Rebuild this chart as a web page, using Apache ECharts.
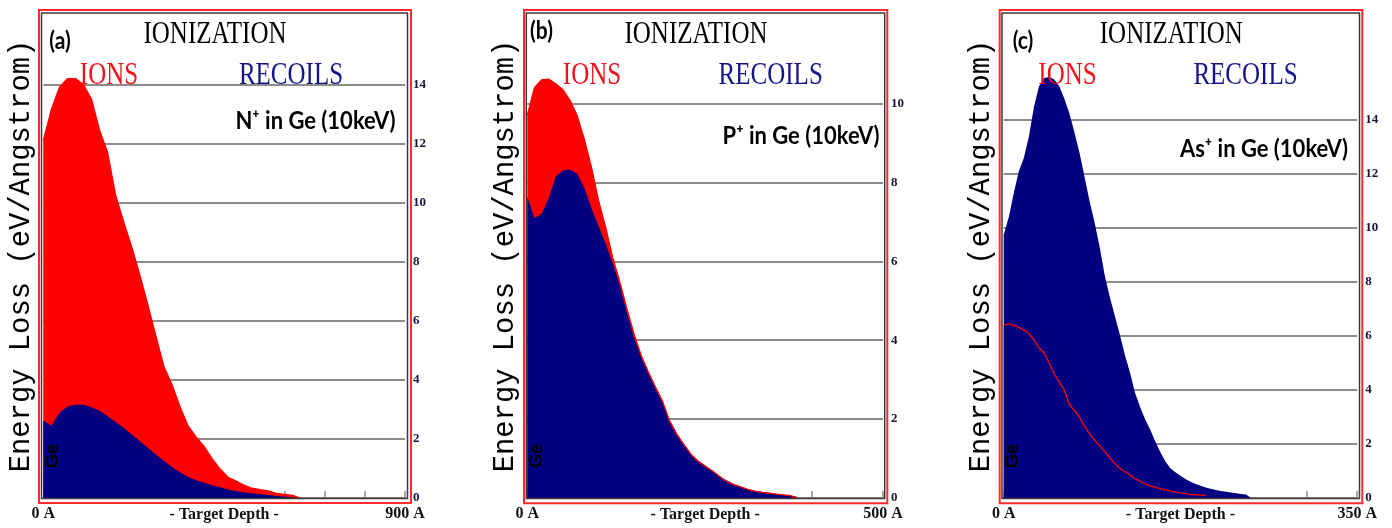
<!DOCTYPE html>
<html>
<head>
<meta charset="utf-8">
<script src="https://cdn.jsdelivr.net/npm/echarts@6/dist/echarts.min.js"></script>
<style>
  html, body { margin: 0; padding: 0; background: #ffffff; }
  #chart { width: 1392px; height: 528px; }
</style>
</head>
<body>
<div id="chart"></div>
<script>
// Ionization energy loss (eV/Angstrom) versus target depth (Angstrom), 10 keV implants in Ge.

// (a) N+ in Ge
const depthA = [0,20,40,60,80,100,120,140,160,180,200,220,240,260,280,300,320,340,360,380,400,420,440,460,480,500,520,540,560,580,600,620,640];
const ionsA = [12.1,13.15,13.9,14.2,14.2,14.0,13.5,12.45,11.7,10.25,9.35,8.5,7.55,6.55,5.5,4.45,3.84,3.1,2.45,2.07,1.75,1.33,0.98,0.7,0.57,0.43,0.33,0.28,0.24,0.16,0.12,0.09,0];
const recoilsA = [2.62,2.45,2.88,3.1,3.16,3.16,3.07,2.95,2.77,2.57,2.38,2.15,1.93,1.7,1.47,1.26,1.05,0.87,0.72,0.6,0.52,0.43,0.36,0.29,0.24,0.19,0.16,0.13,0.1,0.07,0.05,0.02,0];

// (b) P+ in Ge
const depthB = [0,10,20,30,40,50,60,70,80,90,100,110,120,130,140,150,160,170,180,190,200,210,220,230,240,250,260,270,280,290,300,310,320,330,340,350,360,370,380];
const ionsB = [9.7,10.4,10.6,10.62,10.5,10.35,10.08,9.7,9.1,8.4,7.55,6.87,6.1,5.48,4.8,4.16,3.62,3.2,2.82,2.46,1.95,1.62,1.36,1.11,0.93,0.8,0.69,0.55,0.41,0.34,0.28,0.22,0.17,0.14,0.12,0.1,0.08,0.06,0];
const recoilsB = [7.63,7.1,7.2,7.6,8.15,8.3,8.33,8.22,7.88,7.36,6.9,6.45,5.95,5.4,4.7,4.07,3.58,3.17,2.78,2.42,1.99,1.65,1.36,1.11,0.96,0.83,0.7,0.56,0.45,0.36,0.29,0.23,0.19,0.16,0.13,0.1,0.08,0.06,0.03];

// (c) As+ in Ge
const depthC = [0,5,10,15,20,25,30,35,40,45,50,55,60,65,70,75,80,85,90,95,100,105,110,115,120,125,130,135,140,145,150,155,160,165,170,175,180,185,190,195,200,205,210,215,220,225,230,235,240,245];
const ionsC = [6.4,6.45,6.4,6.32,6.22,6.1,5.85,5.56,5.37,5.0,4.6,4.3,4.0,3.45,3.25,3.0,2.65,2.38,2.15,1.94,1.72,1.5,1.28,1.1,0.97,0.85,0.72,0.62,0.52,0.44,0.4,0.35,0.3,0.26,0.22,0.19,0.16,0.13,0.12,0.11,0.1];
const recoilsC = [9.75,10.4,11.3,12.1,12.6,13.4,14.5,15.25,15.55,15.6,15.5,15.25,14.8,14.25,13.55,12.8,11.9,11.0,10.2,9.3,8.25,7.45,6.75,6.05,5.3,4.65,3.9,3.38,2.92,2.54,2.1,1.7,1.36,1.1,0.95,0.82,0.7,0.6,0.52,0.45,0.39,0.34,0.3,0.26,0.23,0.2,0.18,0.15,0.13,0];

// Axis ranges and captions
const depthMax = [900, 500, 350];
const lossMax = [14, 10, 14];
const panelTags = ['(a)', '(b)', '(c)'];
const implantLabels = ['N\u207A in Ge (10keV)', 'P\u207A in Ge (10keV)', 'As\u207A in Ge (10keV)'];

const ION_RED = '#ff0000';
const RECOIL_NAVY = '#000080';

// Layout of the three framed plots
const layout = [
  { left: 43.3, width: 361.7, top: 84.5, red: [39, 10, 372, 493], dark: [41.5, 13, 366, 485.5],
    tag: [60, 40.8], title: [215, 34.7], ions: [109, 75.7], recoils: [291, 75.7], implant: [315.5, 121], ge: [53, 456], yName: [21, 256] },
  { left: 527.3, width: 355.7, top: 103.5, red: [524, 10, 363.3, 493.3], dark: [526.3, 13, 358.4, 485.5],
    tag: [541.5, 31], title: [696, 34.7], ions: [592, 75.7], recoils: [770.7, 75.7], implant: [801, 135.8], ge: [537.3, 456], yName: [505.7, 256] },
  { left: 1003.7, width: 353.5, top: 120, red: [999.7, 10, 362.6, 493.3], dark: [1002, 13, 357.5, 485.5],
    tag: [1023, 40.8], title: [1171.3, 34.7], ions: [1067.5, 75.7], recoils: [1245.5, 75.7], implant: [1264, 149], ge: [1013, 456], yName: [981.3, 256] }
];
const PLOT_BOTTOM = 498;

const pairs = (xs, ys) => ys.map((v, i) => [xs[i], v]);
const datasets = [
  { depth: depthA, ions: ionsA, recoils: recoilsA },
  { depth: depthB, ions: ionsB, recoils: recoilsB },
  { depth: depthC, ions: ionsC, recoils: recoilsC }
];

const grid = [], xAxis = [], yAxis = [], series = [], graphic = [];

layout.forEach((L, i) => {
  grid.push({ left: L.left, width: L.width, top: L.top, height: PLOT_BOTTOM - L.top,
              containLabel: false, outerBoundsMode: 'none' });

  const maxD = depthMax[i];
  xAxis.push({
    type: 'value', gridIndex: i, min: 0, max: maxD, interval: 100,
    axisLine: { show: true, lineStyle: { color: '#9a9a9a', width: 1 } },
    axisTick: { show: true, inside: true, length: 7, lineStyle: { color: '#8a8a8a', width: 1.5 } },
    splitLine: { show: false },
    axisLabel: {
      show: true, showMinLabel: true, showMaxLabel: true, margin: 8,
      fontFamily: '"Liberation Serif", serif', fontWeight: 'bold', fontSize: 16, color: '#111',
      formatter: v => (v === 0 ? '0 A' : (v === maxD ? maxD + ' A' : ''))
    },
    name: '- Target Depth -', nameLocation: 'middle', nameGap: 9, nameMoveOverlap: false,
    nameTextStyle: { fontFamily: '"Liberation Serif", serif', fontWeight: 'bold', fontSize: 16, color: '#111', verticalAlign: 'top' }
  });

  yAxis.push({
    type: 'value', gridIndex: i, position: 'right', min: 0, max: lossMax[i], interval: 2,
    axisLine: { show: false }, axisTick: { show: false },
    splitLine: { show: true, lineStyle: { color: '#8c8c8c', width: 2 } },
    axisLabel: {
      margin: 8, fontFamily: '"Liberation Serif", serif', fontWeight: 'bold', fontSize: 13, color: '#15153a',
      verticalAlign: 'middle', padding: [0, 0, 8, 0]
    }
  });

  const d = datasets[i];
  // ions as a filled area, recoils on top of it, ions outline drawn last
  series.push({
    type: 'line', xAxisIndex: i, yAxisIndex: i, data: pairs(d.depth, d.ions), clip: false,
    showSymbol: false, silent: true, z: 2,
    lineStyle: { width: 0, color: ION_RED }, areaStyle: { color: ION_RED, opacity: 1 }
  });
  series.push({
    type: 'line', xAxisIndex: i, yAxisIndex: i, data: pairs(d.depth, d.recoils), clip: false,
    showSymbol: false, silent: true, z: 3,
    lineStyle: { width: 0, color: RECOIL_NAVY }, areaStyle: { color: RECOIL_NAVY, opacity: 1 }
  });
  series.push({
    type: 'line', xAxisIndex: i, yAxisIndex: i, data: pairs(d.depth, d.ions), clip: false,
    showSymbol: false, silent: true, z: 4,
    lineStyle: { width: 1.3, color: ION_RED }
  });

  // frames
  graphic.push({ type: 'rect', z: 50, silent: true,
    shape: { x: L.red[0], y: L.red[1], width: L.red[2], height: L.red[3] },
    style: { fill: 'none', stroke: '#ff2a2a', lineWidth: 2 } });
  graphic.push({ type: 'rect', z: 50, silent: true,
    shape: { x: L.dark[0], y: L.dark[1], width: L.dark[2], height: L.dark[3] },
    style: { fill: 'none', stroke: '#3a3a3a', lineWidth: 1.5 } });

  const txt = (pos, text, font, fill, extra) => Object.assign({
    type: 'text', z: 60, silent: true, x: pos[0], y: pos[1],
    style: { text: text, font: font, fill: fill, align: 'center', verticalAlign: 'middle',
             textAlign: 'center', textVerticalAlign: 'middle' }
  }, extra || {});

  graphic.push(txt(L.tag, panelTags[i], 'bold 21px Lato, "Noto Sans", sans-serif', '#000', { scaleY: 1.15 }));
  graphic.push(txt(L.title, 'IONIZATION', '25px "Liberation Serif", serif', '#000', { scaleY: 1.3 }));
  graphic.push(txt(L.ions, 'IONS', '25px "Liberation Serif", serif', '#f4101a', { scaleY: 1.3 }));
  graphic.push(txt(L.recoils, 'RECOILS', '25px "Liberation Serif", serif', '#14148a', { scaleY: 1.3 }));
  graphic.push(txt(L.implant, implantLabels[i], 'bold 22px Lato, "Noto Sans", sans-serif', '#000', { scaleY: 1.1 }));
  graphic.push(txt(L.ge, 'Ge', 'bold 18px "Liberation Sans", sans-serif', '#000', { rotation: Math.PI / 2 }));
  graphic.push(txt(L.yName, 'Energy Loss (eV/Angstrom)', '28px "Liberation Mono", monospace', '#000',
    { rotation: Math.PI / 2, scaleX: 1.03, scaleY: 1.05 }));
});

const chart = echarts.init(document.getElementById('chart'), null, { renderer: 'canvas' });
chart.setOption({
  animation: false,
  backgroundColor: '#ffffff',
  grid: grid,
  xAxis: xAxis,
  yAxis: yAxis,
  series: series,
  graphic: graphic
});
</script>
</body>
</html>
